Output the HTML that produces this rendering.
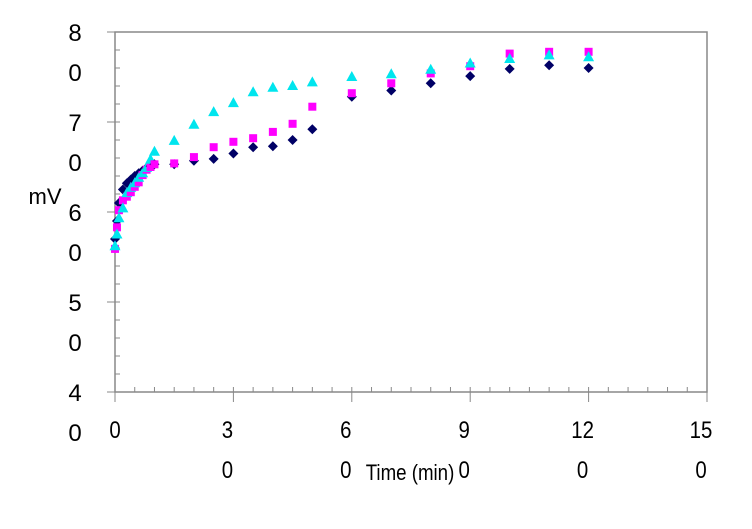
<!DOCTYPE html>
<html><head><meta charset="utf-8"><style>
body{margin:0;background:#fff;}
svg{display:block;font-family:"Liberation Sans",sans-serif;}
</style></head><body>
<svg width="752" height="529">
<g id="axes"></g><g id="marks"></g>
<text x="45" y="204" font-size="22" text-anchor="middle">mV</text>
<text x="410" y="480" font-size="22" text-anchor="middle" transform="translate(410,480) scale(0.85,1) translate(-410,-480)">Time (min)</text>
</svg>
<script>
const times=[0,0.5,1,2,3,4,5,6,7,8,9,10,15,20,25,30,35,40,45,50,60,70,80,90,100,110,120];
const diamondVals=[570,590,610,625,632,636,640,643,646,649,651,653,653,657,659,665,672,673,680,692,728,735,743,751,759,763,760];
const squareVals=[559,583,602,613,617,622,628,633,641,647,650,653,654,661,672,678,682,689,698,717,732,743,754,762,776,778,778];
const triangleVals=[562,575,593,604,621,627,632,638,643,649,658,667,679,697,711,721,733,738,740,744,750,753,758,765,770,774,772];
const yTicks=["8","7","6","5","4"];
const xTicks=["0","3","6","9","12","15"];
const L=115,R=707,T=32,B=392;
const xs=t=>L+(t/150)*(R-L);
const ys=v=>B-(v-400)/400*(B-T);
const NS="http://www.w3.org/2000/svg";
const ax=document.getElementById('axes'),mk=document.getElementById('marks');
function el(tag,attrs,parent){const e=document.createElementNS(NS,tag);for(const k in attrs)e.setAttribute(k,attrs[k]);parent.appendChild(e);return e;}
const frame=el('rect',{x:L,y:T,width:R-L,height:B-T,fill:'none',stroke:'#888','stroke-width':1.5},ax);


for(let v=400;v<=800;v+=20){const l=el('line',{x1:L-(v%100===0?8:0),x2:L+5,y1:ys(v),y2:ys(v),stroke:'#888'},ax);

}
for(let t=0;t<=150;t+=5){const big=t%30===0;const l=el('line',{x1:xs(t),x2:xs(t),y1:B-5,y2:B+(big?10:0),stroke:'#888'},ax);

}
yTicks.forEach((s,i)=>{const v=800-i*100;
const a=el('text',{x:75,y:ys(v)+9,'font-size':24,'text-anchor':'middle'},ax);a.textContent=s;


const b=el('text',{x:75,y:ys(v-40)+13,'font-size':24,'text-anchor':'middle'},ax);b.textContent='0';

});
xTicks.forEach((s,i)=>{const t=i*30;const x=i===0?xs(t):xs(t)-6;
const a=el('text',{x:x,y:438,'font-size':24,'text-anchor':'middle',transform:`translate(${x},0) scale(0.85,1) translate(${-x},0)`},ax);a.textContent=s;


if(i>0){const b=el('text',{x:x,y:478,'font-size':24,'text-anchor':'middle',transform:`translate(${x},0) scale(0.85,1) translate(${-x},0)`},ax);b.textContent='0';

}});
times.forEach((t,i)=>{const x=xs(t);
let y=ys(diamondVals[i]);
const d=el('polygon',{points:`${x},${y-5} ${x+5},${y} ${x},${y+5} ${x-5},${y}`,fill:'#000066'},mk);


y=ys(squareVals[i]);
const s=el('rect',{x:x-4,y:y-4,width:8,height:8,fill:'#ff00ff'},mk);


y=ys(triangleVals[i]);
const tr=el('polygon',{points:`${x},${y-6} ${x+5.5},${y+4} ${x-5.5},${y+4}`,fill:'#00e5ee'},mk);

});
</script>
</body></html>
